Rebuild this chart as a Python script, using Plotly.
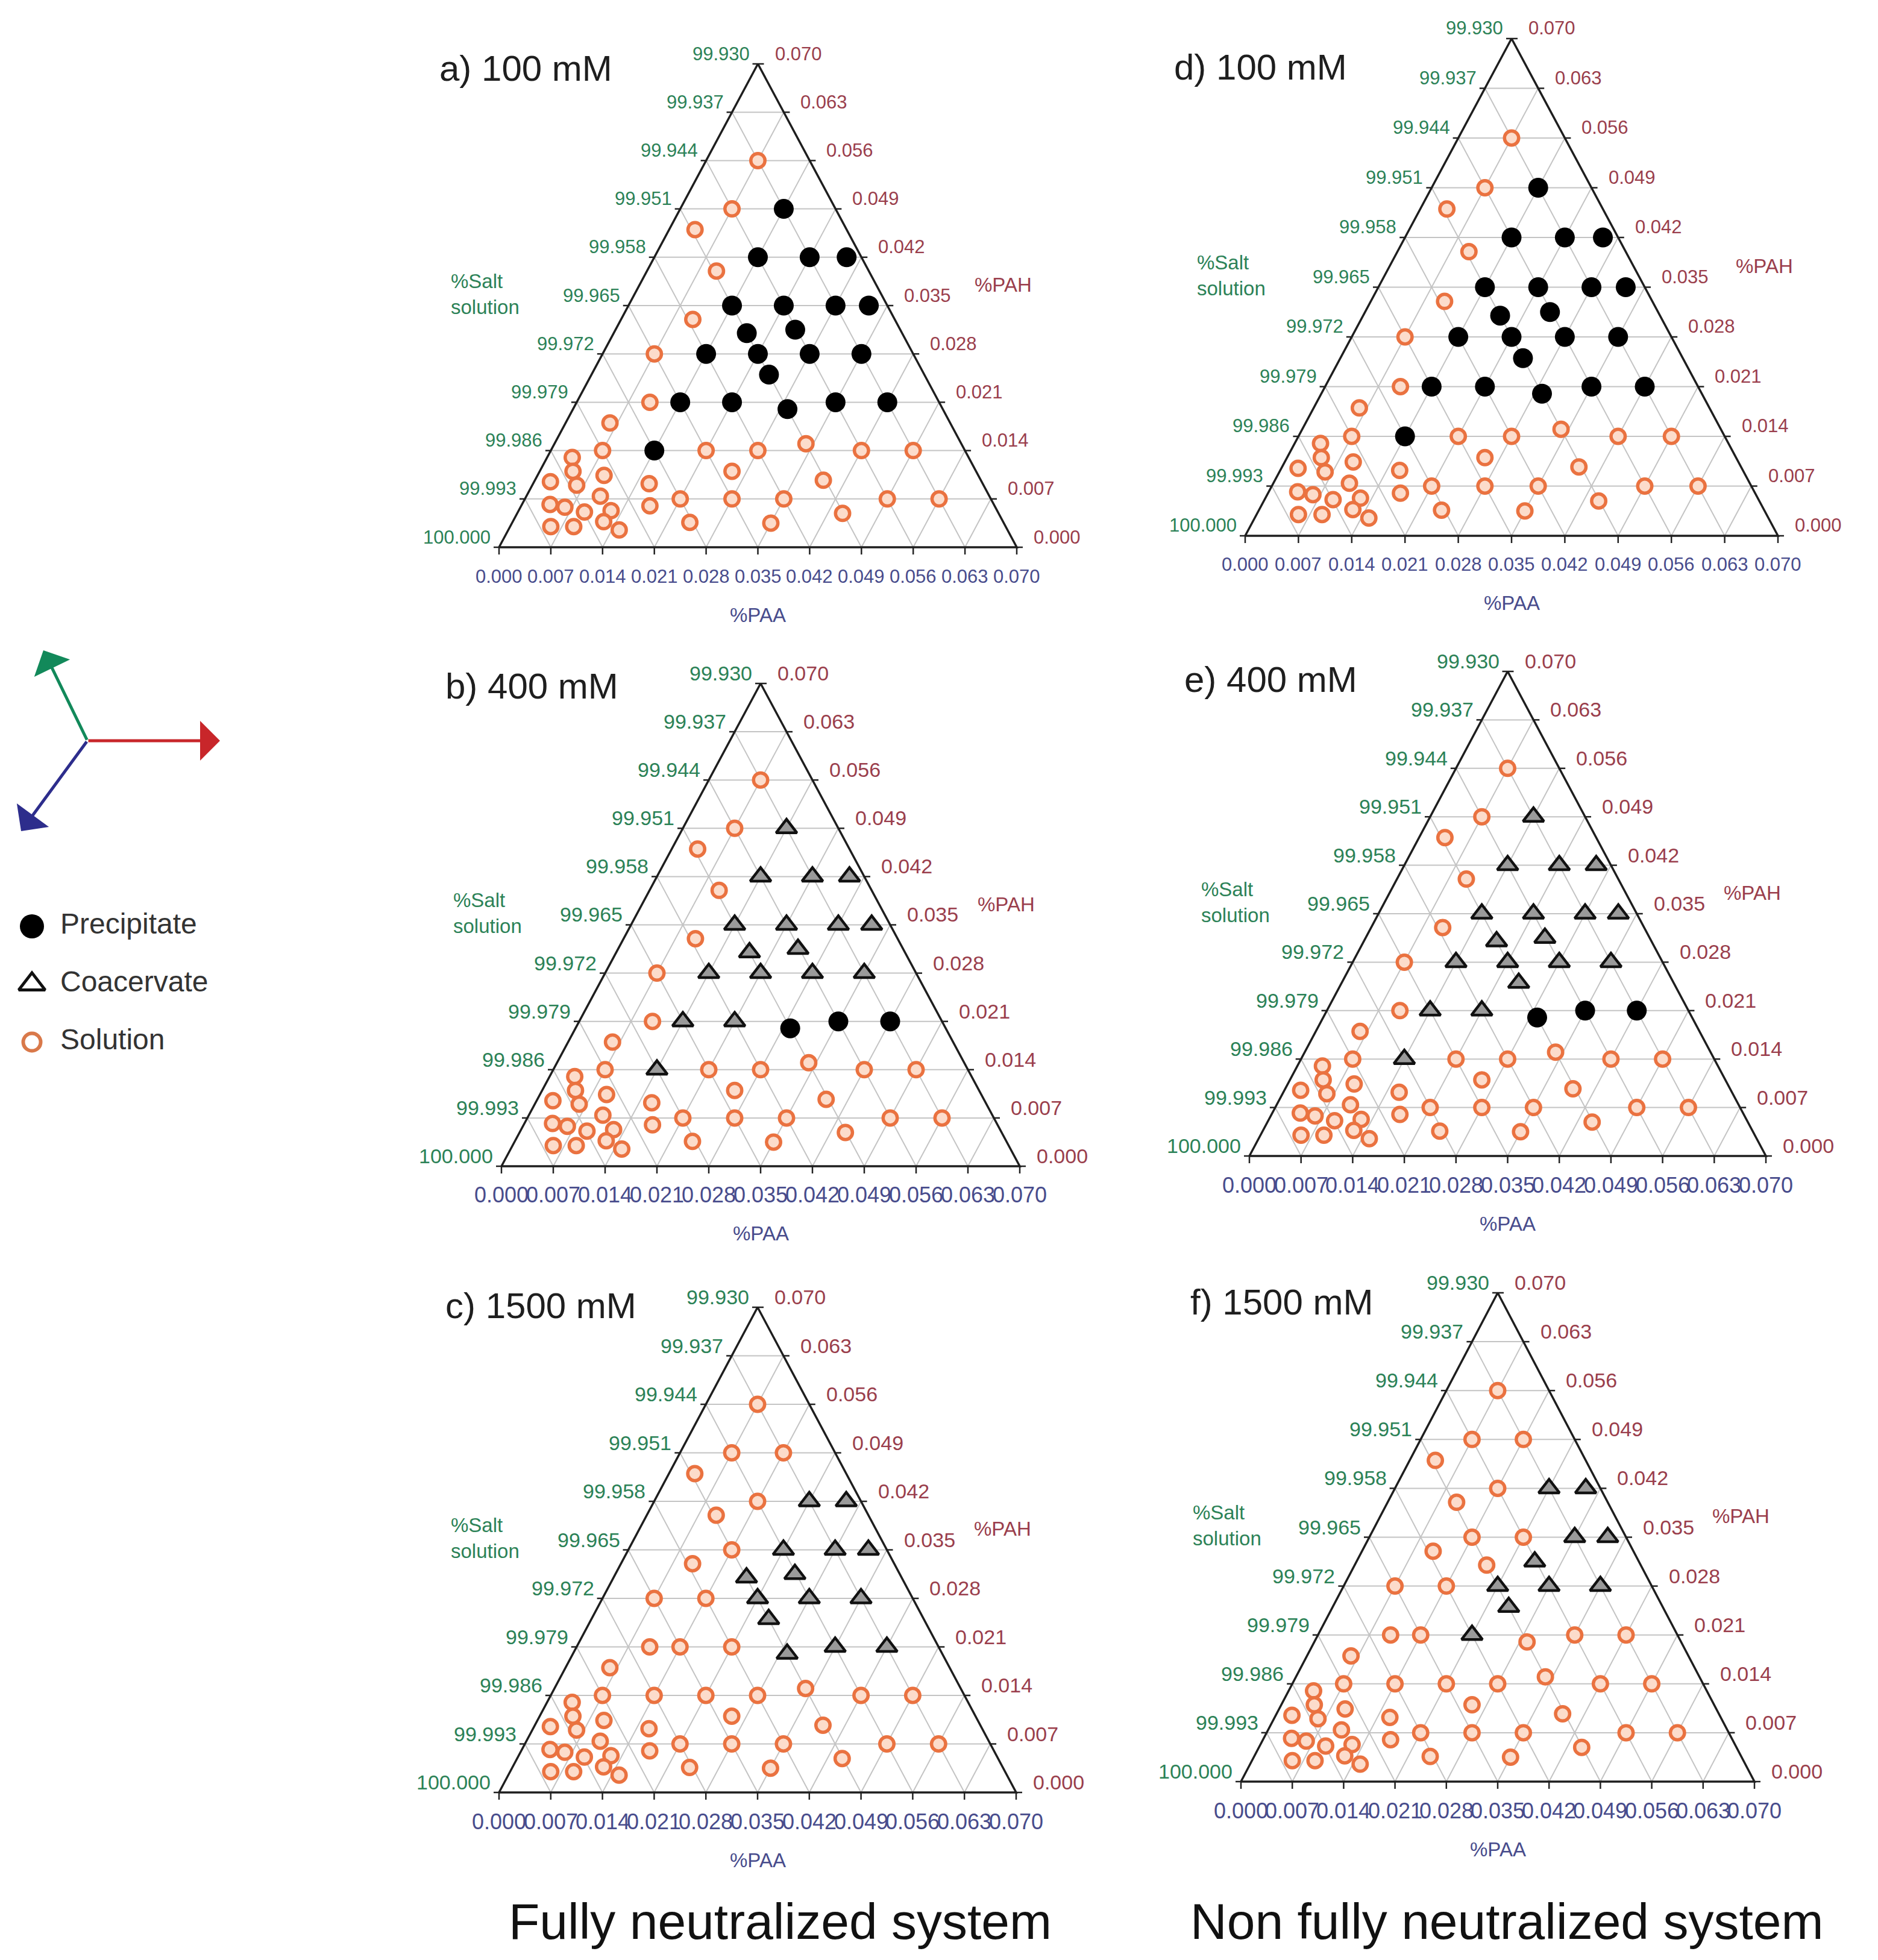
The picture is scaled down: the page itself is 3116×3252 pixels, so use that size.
import plotly.graph_objects as go

W, H = 3116, 3252
SPAN = 0.07          # width of each composition axis (wt%)
FONT = "Liberation Sans, Arial, sans-serif"

# ---------------- data ----------------
# composition (wt%) of the tested PAA / PAH mixtures; the salt solution is the balance to 100 %
paa = [0.014, 0.014, 0.021, 0.026, 0.014, 0.021, 0.028, 0.0325, 0.018, 0.0243,
       0.014, 0.021, 0.028, 0.035, 0.024, 0.014, 0.021, 0.029, 0.035, 0.042, 0.014,
       0.007, 0.007, 0.0035, 0.0094, 0.0097, 0.007, 0.0099, 0.006, 0.007, 0.021,
       0.028, 0.034, 0.042, 0.049, 0.026, 0.039, 0.0157, 0.0174, 0.021, 0.028,
       0.035, 0.049, 0.056, 0.024, 0.035, 0.044,
       0.0034, 0.0045, 0.006, 0.0022, 0.009, 0.010, 0.0038, 0.006, 0.009, 0.0125,
       0.0055, 0.0086, 0.0123, 0.015]
pah = [0.049, 0.042, 0.042, 0.042, 0.035, 0.035, 0.035, 0.035, 0.031, 0.0315,
       0.028, 0.028, 0.028, 0.028, 0.025, 0.021, 0.021, 0.020, 0.021, 0.021, 0.014,
       0.056, 0.049, 0.046, 0.040, 0.033, 0.028, 0.021, 0.018, 0.014, 0.014,
       0.014, 0.015, 0.014, 0.014, 0.011, 0.0097, 0.0092, 0.006, 0.007, 0.007,
       0.007, 0.007, 0.007, 0.0036, 0.0035, 0.0049,
       0.013, 0.011, 0.009, 0.0095, 0.0104, 0.0074, 0.0062, 0.0058, 0.0051, 0.0053,
       0.003, 0.003, 0.0037, 0.0025]

# observed phase of each mixture: P precipitate, C coacervate, S solution, - not shown
phase_a = "PPPPPPPPPPPPPPPPPPPPP" "SSSSSSSSSSSSSSSSSSSSSSSSSS" "SSSSSSSSSSSSSS"
phase_b = "CCCCCCCCCCCCCC-CCPPPC" "SSSSSSSSSSSSSSSSSSSSSSSSSS" "SSSSSSSSSSSSSS"
phase_c = "SSCCSCCCCCSCCCCSSCCCS" "SSSSSSSSSSSSSSSSSSSSSSSSSS" "SSSSSSSSSSSSSS"
phase_d = "PPPPPPPPPPPPPPPPPPPPP" "SSSSSSSSSSSSSSSSSSSSSSSSSS" "SSSSSSSSSSSSSS"
phase_e = "CCCCCCCCCCCCCCCCCPPPC" "SSSSSSSSSSSSSSSSSSSSSSSSSS" "SSSSSSSSSSSSSS"
phase_f = "SSCCSSCCSCSCCCCSCSSSS" "SSSSSSSSSSSSSSSSSSSSSSSSSS" "SSSSSSSSSSSSSS"

salt_ticks = [100.000, 99.993, 99.986, 99.979, 99.972, 99.965, 99.958, 99.951, 99.944, 99.937, 99.930]
pah_ticks = [0.000, 0.007, 0.014, 0.021, 0.028, 0.035, 0.042, 0.049, 0.056, 0.063, 0.070]
paa_ticks = [0.000, 0.007, 0.014, 0.021, 0.028, 0.035, 0.042, 0.049, 0.056, 0.063, 0.070]

panel_titles = ["a) 100 mM", "b) 400 mM", "c) 1500 mM", "d) 100 mM", "e) 400 mM", "f) 1500 mM"]
panel_phases = [phase_a, phase_b, phase_c, phase_d, phase_e, phase_f]
phase_names = {"P": "Precipitate", "C": "Coacervate", "S": "Solution"}
legend_order = ["P", "C", "S"]
captions = ["Fully neutralized system", "Non fully neutralized system"]

# ---------------- layout / style ----------------
# triangle box in pixels (bottom-left x, bottom-right x, apex y, base y), title position, fonts
GEOM = [
    dict(bl=828, br=1687, top=106, base=908, tx=727, ty=114, fs=31, fsb=31),
    dict(bl=832, br=1692, top=1134, base=1935, tx=737, ty=1138, fs=34, fsb=36),
    dict(bl=828, br=1686, top=2169, base=2974, tx=737, ty=2166, fs=34, fsb=36),
    dict(bl=2066, br=2950, top=64, base=889, tx=1946, ty=112, fs=31, fsb=31),
    dict(bl=2073, br=2930, top=1114, base=1918, tx=1963, ty=1128, fs=34, fsb=36),
    dict(bl=2059, br=2911, top=2145, base=2956, tx=1973, ty=2160, fs=34, fsb=36),
]
PAD = 45
GREEN, RED, BLUE = "#2C8257", "#9A3E4C", "#484C8C"
STYLE = {
    "P": dict(symbol="circle", size=33, color="#000000", line=dict(width=0)),
    "C": dict(symbol="triangle-up", size=30, color="#9A9A9A", line=dict(color="#111111", width=4.5)),
    "S": dict(symbol="circle", size=23.5, color="#FCDCCB", line=dict(color="#EA7240", width=5.5)),
}

fig = go.Figure()
annotations = []

for n, (title, phases, g) in enumerate(zip(panel_titles, panel_phases, GEOM), start=1):
    sx = "" if n == 1 else str(n)
    xa, ya = "x" + sx, "y" + sx
    ux = SPAN / (g["br"] - g["bl"])
    uy = SPAN / (g["base"] - g["top"])
    fig.layout["xaxis" + sx] = dict(domain=[(g["bl"] - PAD) / W, (g["br"] + PAD) / W],
                                    range=[-PAD * ux, SPAN + PAD * ux], visible=False,
                                    fixedrange=True, anchor=ya)
    fig.layout["yaxis" + sx] = dict(domain=[1 - (g["base"] + PAD) / H, 1 - (g["top"] - PAD) / H],
                                    range=[-PAD * uy, SPAN + PAD * uy], visible=False,
                                    fixedrange=True, anchor=xa)

    # grid lines (ternary -> cartesian: X = PAA + PAH/2, Y = PAH)
    gx, gy = [], []
    for v in pah_ticks[1:-1]:
        gx += [v / 2, SPAN - v / 2, None]; gy += [v, v, None]
    for v in paa_ticks[1:-1]:
        gx += [v, v + (SPAN - v) / 2, None]; gy += [0, SPAN - v, None]
    for s in salt_ticks[1:-1]:
        t = 100 - s
        gx += [t, t / 2, None]; gy += [0, t, None]
    fig.add_trace(go.Scatter(x=gx, y=gy, mode="lines", xaxis=xa, yaxis=ya,
                             line=dict(color="#C4C4C4", width=2), hoverinfo="skip", showlegend=False))
    # tick stubs
    tx_, ty_ = [], []
    for s in salt_ticks:
        t = 100 - s
        tx_ += [t / 2, t / 2 - 9 * ux, None]; ty_ += [t, t, None]
    for v in pah_ticks:
        tx_ += [SPAN - v / 2, SPAN - v / 2 + 10 * ux, None]; ty_ += [v, v, None]
    for v in paa_ticks:
        tx_ += [v, v, None]; ty_ += [0, -12 * uy, None]
    fig.add_trace(go.Scatter(x=tx_, y=ty_, mode="lines", xaxis=xa, yaxis=ya,
                             line=dict(color="#222222", width=2.5), hoverinfo="skip", showlegend=False))
    # outline
    fig.add_trace(go.Scatter(x=[0, SPAN, SPAN / 2, 0], y=[0, 0, SPAN, 0], mode="lines",
                             xaxis=xa, yaxis=ya, line=dict(color="#1E1E1E", width=3.5),
                             hoverinfo="skip", showlegend=False))
    # experimental points
    for code in ["S", "C", "P"]:
        px = [a + b / 2 for a, b, ph in zip(paa, pah, phases) if ph == code]
        py = [b for a, b, ph in zip(paa, pah, phases) if ph == code]
        if px:
            fig.add_trace(go.Scatter(x=px, y=py, mode="markers", xaxis=xa, yaxis=ya,
                                     marker=STYLE[code], name=phase_names[code],
                                     showlegend=False, cliponaxis=False))
    # tick labels
    for s in salt_ticks:
        t = 100 - s
        annotations.append(dict(x=t / 2, y=t, xref=xa, yref=ya, text=f"{s:.3f}", showarrow=False,
                                xanchor="right", yanchor="middle", xshift=-12, yshift=17,
                                font=dict(family=FONT, size=g["fs"], color=GREEN)))
    for v in pah_ticks:
        annotations.append(dict(x=SPAN - v / 2, y=v, xref=xa, yref=ya, text=f"{v:.3f}", showarrow=False,
                                xanchor="left", yanchor="middle", xshift=26, yshift=17,
                                font=dict(family=FONT, size=g["fs"], color=RED)))
    for v in paa_ticks:
        annotations.append(dict(x=v, y=0, xref=xa, yref=ya, text=f"{v:.3f}", showarrow=False,
                                xanchor="center", yanchor="middle", yshift=-48,
                                font=dict(family=FONT, size=g["fsb"], color=BLUE)))
    # axis titles
    annotations.append(dict(x=0, y=SPAN * 0.524, xref=xa, yref=ya, text="%Salt<br>solution",
                            showarrow=False, xanchor="left", yanchor="middle", xshift=-82, align="left",
                            font=dict(family=FONT, size=33, color=GREEN)))
    annotations.append(dict(x=SPAN, y=SPAN * 0.543, xref=xa, yref=ya, text="%PAH",
                            showarrow=False, xanchor="left", yanchor="middle", xshift=-72,
                            font=dict(family=FONT, size=33, color=RED)))
    annotations.append(dict(x=SPAN / 2, y=0, xref=xa, yref=ya, text="%PAA",
                            showarrow=False, xanchor="center", yanchor="middle", yshift=-112,
                            font=dict(family=FONT, size=33, color=BLUE)))
    # panel title
    annotations.append(dict(x=g["tx"] / W, y=1 - g["ty"] / H, xref="paper", yref="paper", text=title,
                            showarrow=False, xanchor="left", yanchor="middle",
                            font=dict(family=FONT, size=60, color="#1E1E1E")))

# ---------------- legend (own small subplot) ----------------
LEG = dict(x0=0, x1=400, y_first=1537, step=96)
lx_unit = 47.0
fig.layout["xaxis7"] = dict(domain=[LEG["x0"] / W, LEG["x1"] / W],
                            range=[-53 / lx_unit, (LEG["x1"] - 53) / lx_unit],
                            visible=False, fixedrange=True, anchor="y7")
fig.layout["yaxis7"] = dict(domain=[1 - (LEG["y_first"] + 2.5 * LEG["step"]) / H,
                                    1 - (LEG["y_first"] - 0.5 * LEG["step"]) / H],
                            range=[2.5, -0.5], visible=False, fixedrange=True, anchor="x7")
leg_marker = {
    "P": dict(symbol="circle", size=40, color="#000000", line=dict(width=0)),
    "C": dict(symbol="triangle-up", size=38, color="#FFFFFF", line=dict(color="#111111", width=5)),
    "S": dict(symbol="circle", size=29, color="#FFFFFF", line=dict(color="#D9794A", width=6)),
}
for i, code in enumerate(legend_order):
    fig.add_trace(go.Scatter(x=[0], y=[i], mode="markers", xaxis="x7", yaxis="y7",
                             marker=leg_marker[code], showlegend=False, hoverinfo="skip",
                             cliponaxis=False))
fig.add_trace(go.Scatter(x=[1] * len(legend_order), y=list(range(len(legend_order))),
                         mode="text", text=[phase_names[c] for c in legend_order],
                         textposition="middle right", xaxis="x7", yaxis="y7",
                         textfont=dict(family=FONT, size=48, color="#333333"),
                         showlegend=False, hoverinfo="skip", cliponaxis=False))

# direction arrows (tail at common origin)
ORIGIN = (145, 1229)
for (tipx, tipy), col in [((72, 1079), "#12895A"), ((365, 1229), "#C8262A"), ((35, 1379), "#2D2D8C")]:
    annotations.append(dict(x=tipx / W, y=1 - tipy / H, xref="paper", yref="paper",
                            ax=ORIGIN[0] - tipx, ay=ORIGIN[1] - tipy, axref="pixel", ayref="pixel",
                            showarrow=True, arrowhead=1, arrowsize=2.2, arrowwidth=5,
                            arrowcolor=col, text=""))

# captions
for cap, cx in zip(captions, [1294, 2500]):
    annotations.append(dict(x=cx / W, y=1 - 3188 / H, xref="paper", yref="paper", text=cap,
                            showarrow=False, xanchor="center", yanchor="middle",
                            font=dict(family=FONT, size=84, color="#111111")))

fig.update_layout(width=W, height=H, margin=dict(l=0, r=0, t=0, b=0),
                  paper_bgcolor="white", plot_bgcolor="rgba(0,0,0,0)",
                  annotations=annotations, showlegend=False)
fig.write_html("out.html", config={"displayModeBar": False},
               post_script="document.body.style.margin='0';")
